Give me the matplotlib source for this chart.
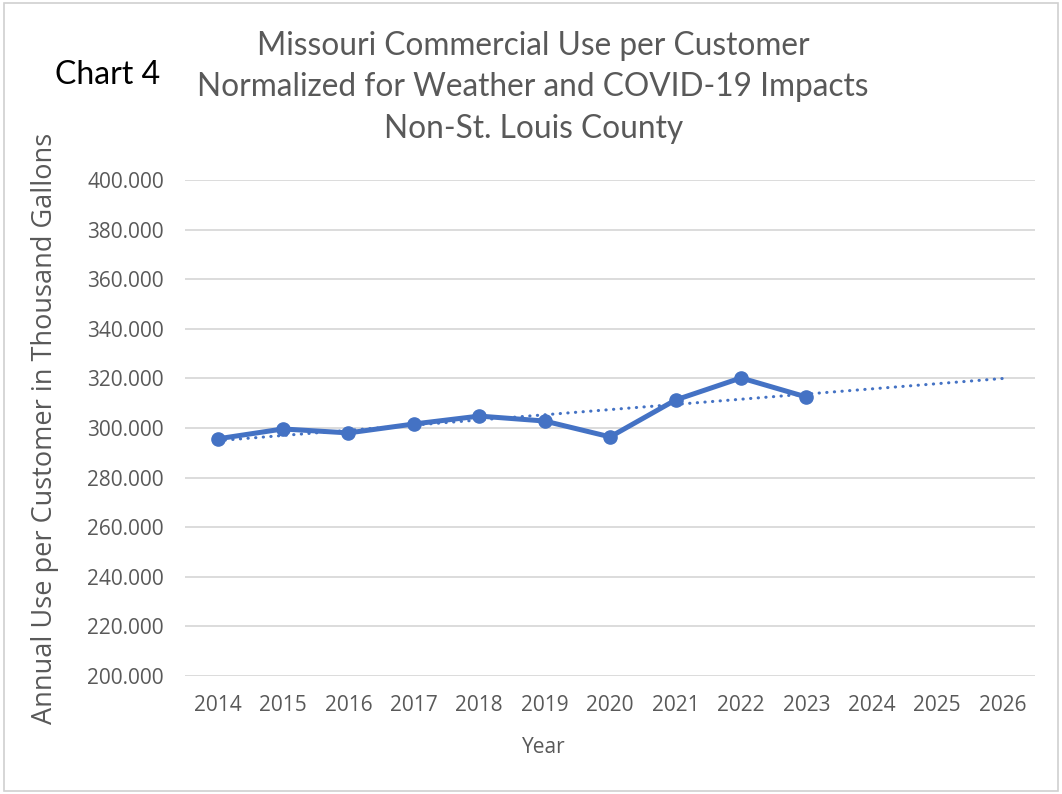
import numpy as np
import matplotlib.pyplot as plt
from matplotlib.patches import Rectangle

# data
years = [2014, 2015, 2016, 2017, 2018, 2019, 2020, 2021, 2022, 2023]
use_per_customer = [295.6, 299.6, 298.0, 301.6, 304.8, 302.8, 296.4, 311.3, 320.2, 312.5]
all_years = [2014, 2015, 2016, 2017, 2018, 2019, 2020, 2021, 2022, 2023, 2024, 2025, 2026]
yticks = [200, 220, 240, 260, 280, 300, 320, 340, 360, 380, 400]

plt.rcParams['font.family'] = ['Open Sans', 'DejaVu Sans']
blue = '#4472C4'
gray = '#595959'

fig = plt.figure(figsize=(10.62, 7.94), dpi=100)
ax = fig.add_axes([0.174, 0.149, 0.801, 0.624])

xpos = np.arange(len(all_years))
xdata = xpos[:len(years)]

# linear trend like Excel, extended to 2026
k, b = np.polyfit(xdata, use_per_customer, 1)
ax.plot(xpos, k * xpos + b, color=blue, lw=2.2, ls=(0, (0.1, 2.4)), dash_capstyle='round', zorder=2)

ax.plot(xdata, use_per_customer, color=blue, lw=3.6, marker='o', ms=9.5, zorder=3)

ax.set_xlim(-0.5, len(all_years) - 0.5)
ax.set_ylim(200, 400)
ax.set_yticks(yticks)
ax.set_yticklabels([f'{v:.3f}' for v in yticks])
ax.set_xticks(xpos)
ax.set_xticklabels([str(y) for y in all_years])
ax.grid(axis='y', color='#D9D9D9', lw=1.3)
ax.set_axisbelow(True)
for s in ax.spines.values():
    s.set_visible(False)
ax.tick_params(length=0, labelsize=15, colors=gray)
ax.tick_params(axis='x', pad=14)
ax.tick_params(axis='y', pad=15)

ax.set_xlabel('Year', fontsize=15, color=gray)
ax.xaxis.set_label_coords(0.422, -0.124)
ax.set_ylabel('Annual Use per Customer in Thousand Gallons', fontsize=19.5, color=gray, labelpad=20)

title_font = ['Lato', 'DejaVu Sans']
fig.text(0.502, 0.942, 'Missouri Commercial Use per Customer', ha='center', va='center',
         fontsize=22.8, color=gray, family=title_font)
fig.text(0.502, 0.891, 'Normalized for Weather and COVID-19 Impacts', ha='center', va='center',
         fontsize=22.8, color=gray, family=title_font)
fig.text(0.502, 0.837, 'Non-St. Louis County', ha='center', va='center',
         fontsize=22.8, color=gray, family=title_font)
fig.text(0.052, 0.906, 'Chart 4', ha='left', va='center', fontsize=23, color='black', family=title_font)

fig.patches.append(Rectangle((0.004, 0.004), 0.992, 0.992, transform=fig.transFigure,
                             fill=False, edgecolor='#D0D0D0', lw=1.2))

fig.savefig('out.png', dpi=100)
